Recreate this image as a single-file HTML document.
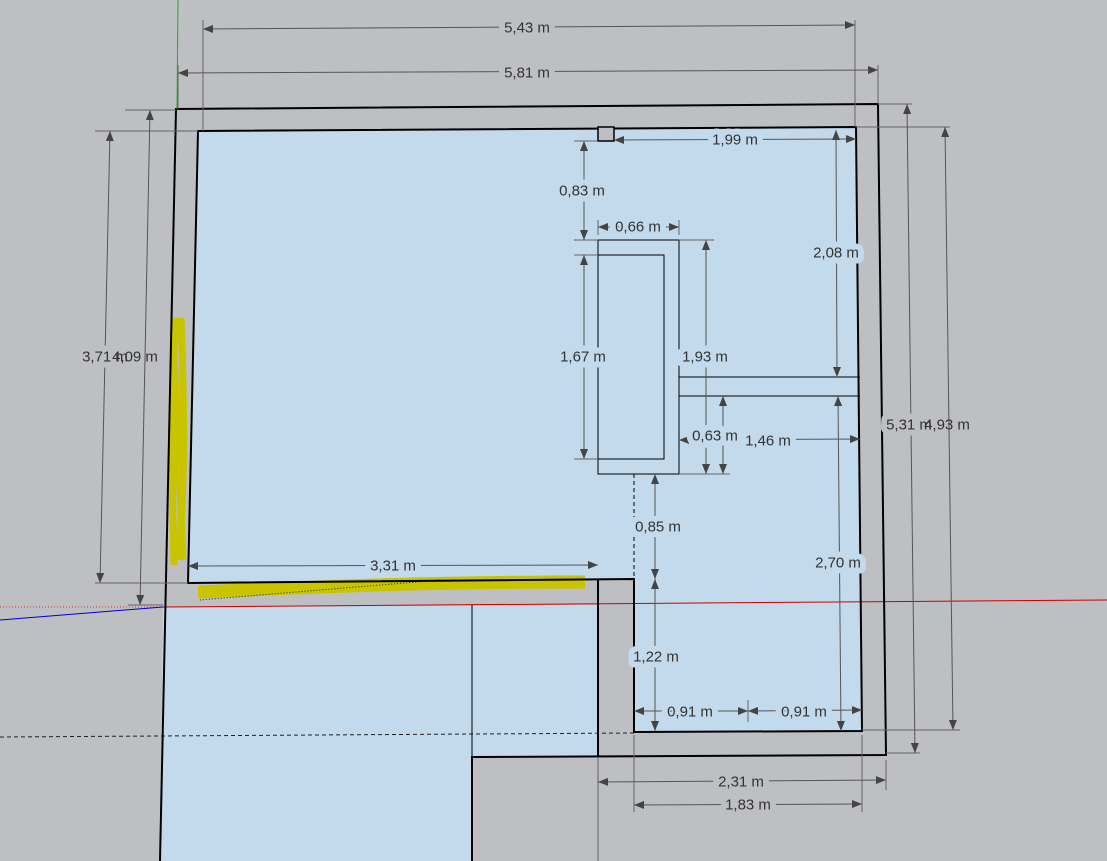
<!DOCTYPE html>
<html><head><style>
html,body{margin:0;padding:0;background:#bebfc3;}
svg{display:block;}
text{font-family:"Liberation Sans",sans-serif;font-size:15px;fill:#333;text-anchor:middle;dominant-baseline:central;paint-order:stroke;stroke-width:12px;stroke-linejoin:round;}
.b{stroke:#c2daeb;} .g{stroke:#bebfc3;}
.d{stroke:#555;stroke-width:1;fill:none;marker-start:url(#a);marker-end:url(#a);}
.e{stroke:#666;stroke-width:1;fill:none;}
.k{stroke:#000;stroke-width:2;fill:none;}
.t{stroke:#000;stroke-width:1;fill:none;}
</style></head><body>
<svg width="1107" height="861" viewBox="0 0 1107 861" xmlns="http://www.w3.org/2000/svg">
<defs><marker id="a" viewBox="0 0 10 8" refX="10" refY="4" markerWidth="11" markerHeight="8" markerUnits="userSpaceOnUse" orient="auto-start-reverse"><path d="M0,0L10,4L0,8z" fill="#444"/></marker></defs>
<rect width="1107" height="861" fill="#bebfc3"/>
<polygon points="198,131 856,127 862,731 634,732 634,579 188,583" fill="#c2daeb"/>
<polygon points="163,607 598,605 598,757 472,757 472,861 160,861" fill="#c2daeb"/>
<path d="M176,318 C170,400 172,480 174,565 M181,318 C184,400 186,480 178,560 M173,330 L183,560" stroke="#c8c400" stroke-width="7" fill="none"/>
<path d="M198,592 C300,588 400,582 585,582" stroke="#c8c400" stroke-width="13" fill="none"/>
<line x1="178" y1="0" x2="177" y2="109" stroke="#2a2" stroke-width="1"/>
<line x1="163" y1="607" x2="1107" y2="600" stroke="#c00" stroke-width="1"/>
<line x1="0" y1="607" x2="163" y2="607" stroke="#d33" stroke-width="1" stroke-dasharray="1,2"/>
<line x1="0" y1="620" x2="163" y2="607" stroke="#00c" stroke-width="1"/>
<line x1="0" y1="737" x2="634" y2="733" stroke="#222" stroke-width="1" stroke-dasharray="4,3"/>
<line x1="440" y1="580" x2="200" y2="600" stroke="#222" stroke-width="1" stroke-dasharray="1,2"/>
<polyline class="k" points="160,861 176,109 878,104 886,755 472,757 472,861"/>
<polygon class="k" points="198,131 856,127 862,731 634,732 634,579 188,583"/>
<line class="k" x1="598" y1="579" x2="598" y2="757"/>
<line class="t" x1="598" y1="757" x2="598" y2="861" style="stroke:#666"/>
<line class="t" x1="472" y1="605" x2="472" y2="757"/>
<rect x="598" y="127" width="16" height="14" fill="#bebfc3" stroke="#000" stroke-width="1.5"/>
<rect class="t" x="598" y="240" width="81" height="234"/>
<rect class="t" x="598" y="255" width="66" height="204"/>
<line class="t" x1="679" y1="377" x2="860" y2="377"/>
<line class="t" x1="679" y1="396" x2="860" y2="396"/>
<line x1="634" y1="474" x2="634" y2="579" stroke="#000" stroke-dasharray="4,3"/>
<path class="e" d="M203,20V131 M855,20V127 M178,65V109 M878,65V104 M125,110H176 M95,131H198 M95,583H188 M128,605H163 M878,104H912 M856,127H950 M862,730H960 M886,753H920 M598,760V790 M886,760V790 M634,735V812 M862,735V812 M574,141H598 M574,240H598 M574,255H598 M574,459H598 M679,240H714 M679,474H730 M598,220V235 M679,220V235 M748,700V722"/>
<line class="d" x1="203" y1="29" x2="855" y2="25"/>
<line class="d" x1="178" y1="73" x2="878" y2="70"/>
<line class="d" x1="110" y1="131" x2="100" y2="583"/>
<line class="d" x1="150" y1="110" x2="140" y2="605"/>
<line class="d" x1="907" y1="104" x2="915" y2="753"/>
<line class="d" x1="945" y1="127" x2="953" y2="730"/>
<line class="d" x1="614" y1="140" x2="856" y2="139"/>
<line class="d" x1="584" y1="141" x2="584" y2="240"/>
<line class="d" x1="598" y1="227" x2="679" y2="227"/>
<line class="d" x1="584" y1="255" x2="584" y2="459"/>
<line class="d" x1="706" y1="240" x2="706" y2="474"/>
<line class="d" x1="836" y1="130" x2="837" y2="377"/>
<line class="d" x1="723" y1="396" x2="723" y2="474"/>
<line class="d" x1="679" y1="440" x2="860" y2="439"/>
<line class="d" x1="838" y1="396" x2="841" y2="731"/>
<line class="d" x1="655" y1="474" x2="655" y2="579"/>
<line class="d" x1="188" y1="566" x2="598" y2="565"/>
<line class="d" x1="655" y1="579" x2="655" y2="731"/>
<line class="d" x1="634" y1="711" x2="748" y2="711"/>
<line class="d" x1="748" y1="711" x2="862" y2="710"/>
<line class="d" x1="598" y1="782" x2="886" y2="780"/>
<line class="d" x1="634" y1="805" x2="862" y2="804"/>
<text class="g" x="527" y="28">5,43 m</text>
<text class="g" x="527" y="73">5,81 m</text>
<text class="g" x="105" y="357">3,71 m</text>
<text class="g" x="135" y="357" style="stroke-width:0">4,09 m</text>
<text class="g" x="909" y="425">5,31 m</text>
<text class="g" x="947" y="425" style="stroke-width:0">4,93 m</text>
<text class="b" x="735" y="140">1,99 m</text>
<text class="b" x="582" y="191">0,83 m</text>
<text class="b" x="638" y="227">0,66 m</text>
<text class="b" x="583" y="357">1,67 m</text>
<text class="b" x="705" y="357">1,93 m</text>
<text class="b" x="836" y="253">2,08 m</text>
<text class="b" x="715" y="436">0,63 m</text>
<text class="b" x="768" y="441">1,46 m</text>
<text class="b" x="838" y="563">2,70 m</text>
<text class="b" x="658" y="527">0,85 m</text>
<text class="b" x="393" y="566">3,31 m</text>
<text class="b" x="656" y="657">1,22 m</text>
<text class="b" x="690" y="712">0,91 m</text>
<text class="b" x="804" y="712">0,91 m</text>
<text class="g" x="741" y="782">2,31 m</text>
<text class="g" x="748" y="805">1,83 m</text>
</svg>
</body></html>
